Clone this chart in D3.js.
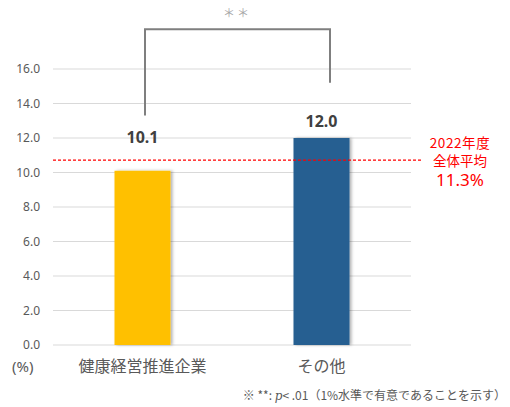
<!DOCTYPE html>
<html><head><meta charset="utf-8">
<script src="https://cdn.jsdelivr.net/npm/d3@7"></script>
<style>body{margin:0;background:#fff;}svg{display:block;font-family:"Noto Sans CJK JP","Noto Sans",sans-serif;}</style>
</head><body><svg id="c" width="510" height="407"></svg>
<script>
const categories = ["健康経営推進企業", "その他"];
const values = [10.1, 12.0];
const colors = ["#FFC000", "#255E91"];
const yTicks = [0, 2, 4, 6, 8, 10, 12, 14, 16];
const avgValue = 11.3;
const avgLineDrawnAt = 10.72; // position where the reference draws the dashed line
const avgLabel = ["2022年度", "全体平均", "11.3%"];
const bracketEnds = [13.3, 15.2]; // bottom ends of significance bracket
const bracketTop = 18.3;
const sigMark = "＊＊";

const svg = d3.select("#c");
const x = d3.scaleBand().domain(categories).range([53, 411]).paddingInner(0.0).paddingOuter(0);
const y = d3.scaleLinear().domain([0, 16]).range([345, 69]);
const barW = 56;
const labelGap = [28, 11];

const defs = svg.append("defs");
const f = defs.append("filter").attr("id","sh").attr("x","-20%").attr("y","-5%").attr("width","150%").attr("height","110%");
f.append("feDropShadow").attr("dx",2).attr("dy",0).attr("stdDeviation",1.5).attr("flood-color","#000").attr("flood-opacity",0.3);

// gridlines
svg.append("g").selectAll("line").data(yTicks).join("line")
  .attr("x1", 53).attr("x2", 411)
  .attr("y1", d => y(d)).attr("y2", d => y(d))
  .attr("stroke", "#d9d9d9").attr("stroke-width", 1);

// y axis labels
const yAxis = d3.axisLeft(y).tickValues(yTicks).tickFormat(d3.format(".1f")).tickSize(0).tickPadding(0);
const ga = svg.append("g").attr("transform", "translate(40,0)").call(yAxis);
ga.select(".domain").remove();
ga.selectAll("text").attr("fill", "#595959").style("font-size", "12px").style("font-family", "'Noto Sans','Open Sans',sans-serif");

// bars
svg.append("g").selectAll("rect").data(values).join("rect")
  .attr("x", (d, i) => x(categories[i]) + x.bandwidth() / 2 - barW / 2)
  .attr("width", barW)
  .attr("y", d => y(d))
  .attr("height", d => y(0) - y(d))
  .attr("fill", (d, i) => colors[i])
  .attr("filter", "url(#sh)");

// value labels
svg.append("g").selectAll("text").data(values).join("text")
  .attr("x", (d, i) => x(categories[i]) + x.bandwidth() / 2)
  .attr("y", (d, i) => y(d) - labelGap[i])
  .attr("text-anchor", "middle")
  .attr("fill", "#404040").style("font-size", "16px").style("font-weight", "bold")
  .style("font-family", "'Noto Sans','Open Sans',sans-serif")
  .text(d => d.toFixed(1));

// category labels
svg.append("g").selectAll("text").data(categories).join("text")
  .attr("x", d => x(d) + x.bandwidth() / 2)
  .attr("y", 372)
  .attr("text-anchor", "middle")
  .attr("fill", "#595959").style("font-size", "16px")
  .text(d => d);

svg.append("text").attr("x", 12).attr("y", 372).attr("fill", "#595959").style("font-size", "15px")
  .style("font-family", "'Noto Sans',sans-serif").text("(%)");

// average line
svg.append("line").attr("x1", 53).attr("x2", 421)
  .attr("y1", y(avgLineDrawnAt)).attr("y2", y(avgLineDrawnAt))
  .attr("stroke", "#FF0000").attr("stroke-width", 1.2).attr("stroke-dasharray", "3,2");

const al = svg.append("g").attr("fill", "#FF0000").attr("text-anchor", "middle");
al.append("text").attr("x", 460).attr("y", 148).style("font-size", "13.5px").attr("letter-spacing", "0.6px").text(avgLabel[0]);
al.append("text").attr("x", 460).attr("y", 166).style("font-size", "13.5px").text(avgLabel[1]);
al.append("text").attr("x", 460).attr("y", 186).style("font-size", "17px")
  .style("font-family", "'Noto Sans',sans-serif").text(avgLabel[2]);

// significance bracket
const bx0 = 145, bx1 = 330;
svg.append("path")
  .attr("d", `M${bx0},${y(bracketEnds[0])}V${y(bracketTop)}H${bx1}V${y(bracketEnds[1])}`)
  .attr("fill", "none").attr("stroke", "#7f7f7f").attr("stroke-width", 2);
svg.append("text").attr("x", 237).attr("y", 18).attr("text-anchor", "middle")
  .attr("fill", "#a6a6a6").style("font-size", "12px").attr("letter-spacing", "2px").text(sigMark);

// footnote
const fn = svg.append("text").attr("x", 506).attr("y", 400).attr("text-anchor", "end")
  .attr("fill", "#595959").style("font-size", "12px");
fn.append("tspan").text("※ **: ");
fn.append("tspan").style("font-style", "italic").style("font-family", "'DejaVu Serif',serif").text("p");
fn.append("tspan").text("< .01（1%水準で有意であることを示す）");
</script></body></html>
